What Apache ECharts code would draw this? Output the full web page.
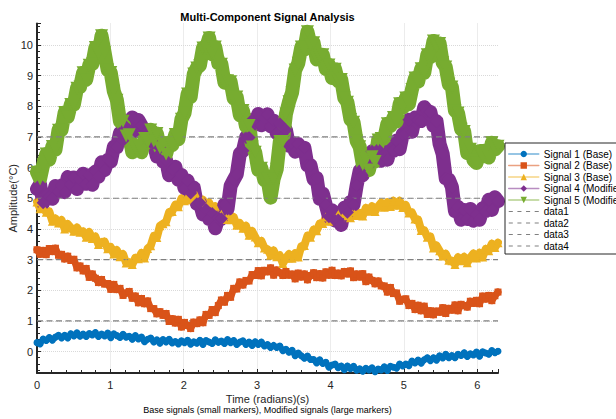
<!DOCTYPE html>
<html>
<head>
<meta charset="utf-8">
<script src="https://cdn.jsdelivr.net/npm/echarts@6/dist/echarts.min.js"></script>
<style>
  html, body { margin: 0; padding: 0; background: #ffffff; }
  #chart { width: 616px; height: 419px; }
</style>
</head>
<body>
<div id="chart"></div>
<script>
// Sample times: 151 evenly spaced samples over one full period [0, 2π]
const sampleCount = 151;
const tEnd = 2 * Math.PI;
const time = Array.from({ length: sampleCount }, (_, i) => i * tEnd / (sampleCount - 1));

// Measured amplitudes (°C), one value per sample time
const signal1 = [
  0.29, 0.25, 0.41, 0.36, 0.46, 0.37, 0.47, 0.53, 0.44, 0.53,
  0.44, 0.58, 0.51, 0.61, 0.50, 0.57, 0.49, 0.59, 0.54, 0.62,
  0.49, 0.57, 0.51, 0.60, 0.45, 0.58, 0.52, 0.46, 0.56, 0.47,
  0.50, 0.40, 0.52, 0.41, 0.47, 0.32, 0.40, 0.44, 0.31, 0.38,
  0.27, 0.39, 0.31, 0.40, 0.28, 0.33, 0.25, 0.35, 0.29, 0.37,
  0.24, 0.32, 0.27, 0.37, 0.23, 0.36, 0.31, 0.26, 0.38, 0.30,
  0.34, 0.26, 0.39, 0.29, 0.36, 0.23, 0.31, 0.35, 0.23, 0.31,
  0.20, 0.32, 0.23, 0.31, 0.18, 0.23, 0.13, 0.20, 0.13, 0.18,
  0.03, 0.07, -0.02, 0.04, -0.14, -0.05, -0.14, -0.22, -0.15, -0.26,
  -0.26, -0.37, -0.27, -0.39, -0.35, -0.51, -0.44, -0.41, -0.53, -0.47,
  -0.59, -0.47, -0.56, -0.48, -0.61, -0.56, -0.64, -0.55, -0.60, -0.53,
  -0.66, -0.57, -0.60, -0.50, -0.62, -0.48, -0.51, -0.54, -0.41, -0.47,
  -0.41, -0.46, -0.31, -0.37, -0.28, -0.38, -0.27, -0.20, -0.30, -0.20,
  -0.28, -0.14, -0.21, -0.09, -0.20, -0.13, -0.20, -0.09, -0.13, -0.04,
  -0.16, -0.07, -0.11, -0.02, -0.15, -0.01, -0.05, -0.09, 0.03, -0.04,
  0.01
];
const signal2 = [
  3.32, 3.17, 3.30, 3.16, 3.36, 3.26, 3.37, 3.14, 3.17, 3.02,
  3.11, 2.97, 3.01, 2.73, 2.79, 2.63, 2.71, 2.42, 2.53, 2.39,
  2.25, 2.35, 2.20, 2.22, 2.03, 2.19, 2.02, 2.06, 1.83, 1.91,
  1.96, 1.74, 1.81, 1.59, 1.73, 1.56, 1.65, 1.40, 1.40, 1.23,
  1.30, 1.18, 1.24, 0.98, 1.07, 0.93, 1.05, 0.80, 0.95, 0.85,
  0.75, 0.96, 0.91, 1.03, 0.94, 1.21, 1.18, 1.37, 1.27, 1.50,
  1.68, 1.61, 1.83, 1.77, 2.06, 2.04, 2.27, 2.17, 2.32, 2.30,
  2.51, 2.48, 2.64, 2.47, 2.65, 2.60, 2.73, 2.49, 2.66, 2.57,
  2.48, 2.61, 2.49, 2.53, 2.37, 2.56, 2.43, 2.53, 2.34, 2.48,
  2.57, 2.41, 2.54, 2.40, 2.60, 2.49, 2.65, 2.48, 2.56, 2.47,
  2.61, 2.53, 2.63, 2.41, 2.53, 2.43, 2.54, 2.28, 2.43, 2.32,
  2.21, 2.30, 2.14, 2.14, 1.94, 2.09, 1.89, 1.91, 1.64, 1.70,
  1.72, 1.50, 1.57, 1.37, 1.51, 1.33, 1.48, 1.21, 1.33, 1.20,
  1.32, 1.28, 1.43, 1.24, 1.41, 1.35, 1.52, 1.33, 1.54, 1.50,
  1.45, 1.64, 1.57, 1.67, 1.56, 1.81, 1.71, 1.83, 1.66, 1.82,
  1.94
];
const signal3 = [
  4.88, 4.66, 4.72, 4.54, 4.57, 4.25, 4.34, 4.19, 4.29, 4.00,
  4.16, 4.04, 3.92, 4.05, 3.89, 3.92, 3.73, 3.90, 3.69, 3.75,
  3.49, 3.57, 3.59, 3.35, 3.41, 3.18, 3.31, 3.09, 3.18, 2.89,
  2.91, 2.84, 3.06, 3.03, 3.22, 3.05, 3.36, 3.45, 3.77, 3.72,
  4.10, 4.17, 4.23, 4.55, 4.57, 4.79, 4.72, 5.00, 4.92, 5.09,
  4.95, 5.04, 5.09, 4.86, 4.95, 4.73, 4.86, 4.65, 4.74, 4.46,
  4.48, 4.31, 4.43, 4.30, 4.39, 4.12, 4.19, 4.02, 4.10, 3.79,
  3.93, 3.74, 3.55, 3.61, 3.38, 3.34, 3.14, 3.30, 3.09, 3.14,
  2.87, 3.05, 3.18, 3.04, 3.21, 3.08, 3.44, 3.46, 3.78, 3.73,
  3.98, 3.94, 4.18, 4.18, 4.39, 4.25, 4.40, 4.33, 4.49, 4.28,
  4.50, 4.43, 4.36, 4.55, 4.44, 4.52, 4.42, 4.69, 4.58, 4.74,
  4.57, 4.74, 4.86, 4.71, 4.87, 4.73, 4.92, 4.77, 4.92, 4.70,
  4.78, 4.52, 4.54, 4.32, 4.31, 3.95, 3.96, 3.73, 3.75, 3.38,
  3.46, 3.29, 3.12, 3.19, 2.98, 2.96, 2.84, 3.08, 2.96, 3.09,
  2.90, 3.07, 3.20, 3.05, 3.22, 3.08, 3.35, 3.29, 3.52, 3.39,
  3.55
];
const signal4 = [
  5.30, 5.45, 4.85, 5.12, 5.05, 4.98, 5.40, 5.23, 5.42, 5.20,
  5.69, 5.46, 5.68, 5.30, 5.61, 5.80, 5.47, 5.75, 5.44, 5.87,
  5.70, 6.17, 5.92, 6.25, 6.19, 6.67, 6.67, 7.13, 6.88, 7.32,
  7.23, 7.63, 7.18, 7.55, 7.37, 7.10, 7.23, 6.82, 6.80, 6.36,
  6.64, 6.20, 6.24, 5.75, 5.94, 6.03, 5.60, 5.76, 5.33, 5.58,
  5.17, 5.35, 4.82, 4.85, 4.47, 4.63, 4.32, 4.50, 4.02, 4.36,
  4.33, 4.80, 4.65, 5.40, 5.60, 5.78, 6.45, 6.55, 6.98, 6.98,
  7.55, 7.41, 7.75, 7.38, 7.62, 7.74, 7.35, 7.53, 7.12, 7.43,
  7.04, 7.23, 6.71, 6.81, 6.52, 6.77, 6.53, 6.65, 6.07, 6.08,
  5.62, 5.66, 4.98, 5.15, 4.77, 4.40, 4.61, 4.27, 4.29, 4.13,
  4.69, 4.54, 4.88, 4.80, 5.41, 5.90, 5.75, 6.19, 6.06, 6.53,
  6.27, 6.60, 6.22, 6.42, 6.26, 6.64, 6.55, 6.88, 6.60, 7.09,
  7.12, 7.56, 7.17, 7.63, 7.55, 7.52, 7.97, 7.85, 7.81, 7.36,
  7.51, 6.77, 6.45, 5.65, 5.61, 5.37, 4.58, 4.72, 4.30, 4.62,
  4.32, 4.65, 4.27, 4.46, 4.30, 4.67, 4.58, 4.95, 4.62, 5.03,
  4.90
];
const signal5 = [
  5.85, 5.63, 6.09, 6.44, 6.26, 6.69, 6.58, 7.22, 7.23, 7.80,
  7.65, 8.06, 8.06, 8.59, 8.63, 9.09, 8.86, 9.34, 9.38, 9.92,
  9.71, 10.30, 9.75, 9.18, 9.10, 8.49, 8.20, 7.50, 7.51, 7.03,
  7.07, 6.50, 6.65, 6.72, 6.50, 6.95, 6.82, 7.23, 6.87, 7.11,
  6.65, 6.75, 6.44, 6.81, 6.73, 7.08, 6.92, 7.58, 7.78, 8.40,
  8.30, 9.05, 9.25, 9.33, 9.90, 9.90, 10.23, 9.70, 9.93, 9.40,
  9.37, 8.77, 8.83, 8.80, 8.25, 8.30, 7.71, 7.86, 7.34, 7.37,
  6.67, 6.50, 5.92, 5.98, 5.59, 5.63, 5.02, 5.63, 5.95, 6.85,
  6.85, 7.75, 8.15, 8.45, 9.18, 9.40, 9.93, 9.85, 10.43, 10.00,
  10.07, 9.53, 9.63, 9.68, 9.21, 9.35, 8.92, 9.21, 8.82, 8.87,
  8.27, 8.13, 7.57, 7.48, 6.87, 6.68, 6.10, 6.24, 5.92, 6.35,
  6.20, 6.90, 6.95, 6.95, 7.43, 7.35, 7.63, 7.50, 8.08, 7.95,
  8.27, 8.07, 8.55, 8.92, 8.80, 9.22, 9.09, 9.68, 9.60, 10.13,
  9.97, 10.05, 9.42, 9.28, 8.72, 8.63, 7.85, 7.78, 7.25, 7.18,
  6.47, 6.60, 6.25, 6.15, 6.53, 6.37, 6.56, 6.33, 6.81, 6.59,
  6.70
];

// Horizontal reference levels
const refLevels = [1, 3, 5, 7];
const refNames = ['data1', 'data2', 'data3', 'data4'];

const signalNames = [
  'Signal 1 (Base)', 'Signal 2 (Base)', 'Signal 3 (Base)',
  'Signal 4 (Modified)', 'Signal 5 (Modified)'
];
const signalValues = [signal1, signal2, signal3, signal4, signal5];
const signalColors = ['#0072BD', '#D95319', '#EDB120', '#7E2F8E', '#77AC30'];
const signalSymbols = ['circle', 'rect', 'triangle', 'diamond', 'triangle'];
const signalSymbolSizes = [7, 7, 9, 13, 13];
const signalSymbolRotate = [0, 0, 0, 0, 180];
// Dense noisy samples: a wide trace fills the band between the markers
const signalLineWidths = [6, 7, 8, 14, 14];

const axisColor = '#262626';
const fontFamily = '"Liberation Sans", Arial, Helvetica, sans-serif';
const intLabel = v => (Math.abs(v - Math.round(v)) < 1e-6 ? String(Math.round(v)) : '');

// Legend icon for the dashed reference lines: four short dashes
const dashIcon = 'path://M0,0h4v1h-4z M8.5,0h4v1h-4z M17,0h4v1h-4z M25.5,0h4v1h-4z';

const series = [];
signalNames.forEach((name, k) => {
  series.push({
    name: name,
    type: 'line',
    data: time.map((t, i) => [t, signalValues[k][i]]),
    symbol: signalSymbols[k],
    symbolSize: signalSymbolSizes[k],
    symbolRotate: signalSymbolRotate[k],
    showSymbol: true,
    showAllSymbol: true,
    itemStyle: { color: signalColors[k] },
    lineStyle: { color: signalColors[k], width: signalLineWidths[k], join: 'round', cap: 'round' },
    silent: true,
    clip: true
  });
});
refLevels.forEach((level, k) => {
  series.push({
    name: refNames[k],
    type: 'line',
    data: [[0, level], [tEnd, level]],
    symbol: 'none',
    itemStyle: { color: '#808080' },
    lineStyle: { color: '#808080', width: 1.2, type: [6, 3.5] },
    silent: true
  });
});

const chart = echarts.init(document.getElementById('chart'), null, { renderer: 'svg' });
chart.setOption({
  animation: false,
  backgroundColor: '#ffffff',
  textStyle: { fontFamily: fontFamily },
  title: [
    {
      text: 'Multi-Component Signal Analysis',
      left: 267.5, top: 11, padding: 0, textAlign: 'center',
      textStyle: { fontSize: 11, fontWeight: 'bold', color: '#000000', fontFamily: fontFamily }
    },
    {
      text: 'Base signals (small markers), Modified signals (large markers)',
      left: 267.5, top: 405.5, padding: 0, textAlign: 'center',
      textStyle: { fontSize: 9, fontWeight: 'normal', color: '#000000', fontFamily: fontFamily }
    }
  ],
  grid: {
    left: 37, top: 23.5, width: 461, height: 349.5,
    containLabel: false, outerBoundsMode: 'none'
  },
  xAxis: {
    type: 'value',
    min: 0, max: tEnd,
    splitNumber: 6, minInterval: 1, maxInterval: 1,
    name: 'Time (radians)(s)',
    nameLocation: 'middle', nameGap: 20, nameMoveOverlap: false,
    nameTextStyle: { fontSize: 11, color: axisColor, fontFamily: fontFamily },
    axisLine: { show: true, onZero: false, lineStyle: { color: axisColor, width: 2 } },
    axisTick: { show: true, inside: true, length: 4, lineStyle: { color: axisColor, width: 1 } },
    minorTick: { show: true, splitNumber: 5, length: 3, lineStyle: { color: axisColor, width: 1 } },
    axisLabel: { fontSize: 11, color: axisColor, margin: 6, showMinLabel: true, showMaxLabel: false, formatter: intLabel },
    splitLine: { show: true, showMinLine: false, showMaxLine: false, lineStyle: { color: '#d9d9d9', type: 'dotted', width: 1 } }
  },
  yAxis: {
    type: 'value',
    min: -0.7, max: 10.7,
    splitNumber: 10, minInterval: 1, maxInterval: 1,
    name: 'Amplitude(°C)',
    nameLocation: 'middle', nameGap: 18.5, nameMoveOverlap: false,
    nameTextStyle: { fontSize: 11, color: axisColor, fontFamily: fontFamily },
    axisLine: { show: true, lineStyle: { color: axisColor, width: 2 } },
    axisTick: { show: true, inside: true, length: 4, lineStyle: { color: axisColor, width: 1 } },
    minorTick: { show: true, splitNumber: 5, length: 3, lineStyle: { color: axisColor, width: 1 } },
    axisLabel: { fontSize: 11, color: axisColor, margin: 4, showMinLabel: false, showMaxLabel: false, formatter: intLabel },
    splitLine: { show: true, showMinLine: false, showMaxLine: false, lineStyle: { color: '#d9d9d9', type: 'dotted', width: 1 } }
  },
  legend: {
    orient: 'vertical',
    left: 505, top: 143,
    padding: [6, 4, 3, 3],
    itemWidth: 30, itemHeight: 8, itemGap: 1.5,
    backgroundColor: '#ffffff',
    borderColor: axisColor, borderWidth: 1, borderRadius: 0,
    selectedMode: false,
    textStyle: { fontSize: 10, color: '#000000', lineHeight: 10, fontFamily: fontFamily },
    lineStyle: { width: 1.5, opacity: 0.55 },
    data: signalNames.concat(refNames.map(n => ({ name: n, icon: dashIcon })))
  },
  series: series
});
</script>
</body>
</html>
